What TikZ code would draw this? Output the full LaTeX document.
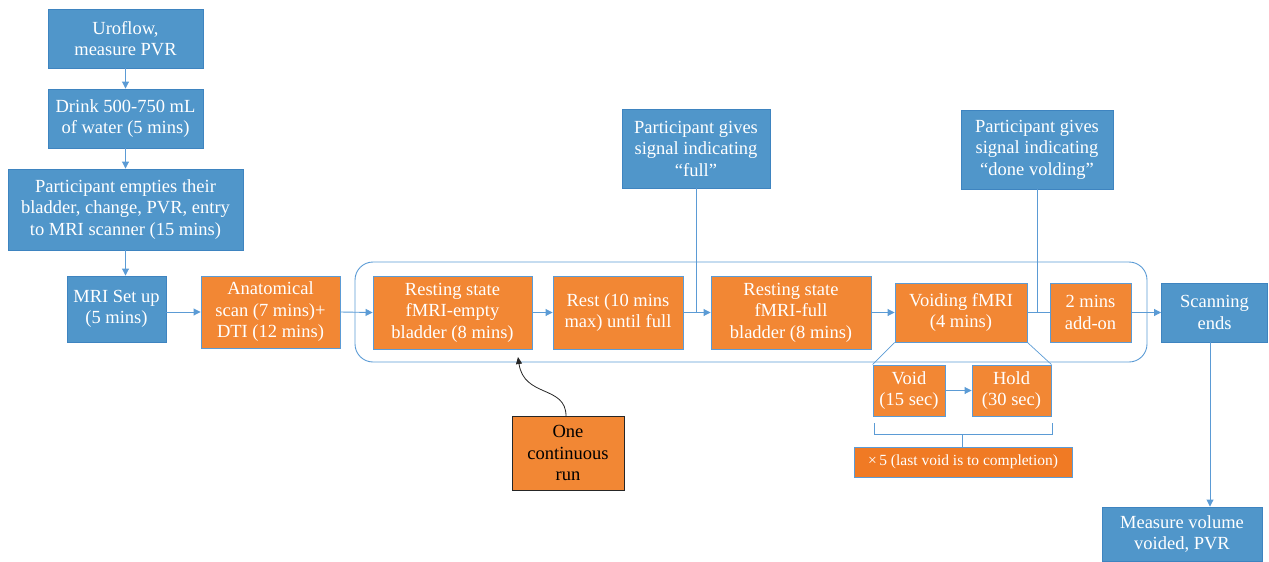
\documentclass[tikz,border=0pt]{standalone}
\usepackage{fontspec}
\setmainfont{Liberation Serif}
\usetikzlibrary{arrows.meta}
\definecolor{bfill}{RGB}{80,150,202}
\definecolor{bdraw}{RGB}{62,132,192}
\definecolor{ofill}{RGB}{242,135,52}
\definecolor{odark}{RGB}{240,122,36}
\definecolor{lcol}{RGB}{91,155,213}
\tikzset{
  box/.style={align=center, inner sep=0pt, line width=0.9pt, text=white,
    font=\fontsize{18.5}{21.5}\selectfont},
  bluebox/.style={box, fill=bfill, draw=bdraw},
  orangebox/.style={box, fill=ofill, draw=lcol},
  conn/.style={draw=lcol, line width=0.9pt},
  arr/.style={conn, -{Triangle[length=7pt,width=7pt]}},
}
\begin{document}
\begin{tikzpicture}[x=1pt,y=-1pt]
\useasboundingbox (0,0) rectangle (1269,562);
% container
\draw[conn, rounded corners=18pt] (355,262) rectangle (1147,362);
% left column
\node[bluebox, minimum width=155, minimum height=59] (uro) at (125.5,38.5) {Uroflow,\\measure PVR};
\node[bluebox, minimum width=155, minimum height=59] (drink) at (125.5,118.5) {Drink 500-750 mL\\of water (5 mins)};
\node[bluebox, minimum width=235, minimum height=81] (empty) at (125.5,209.5) {Participant empties their\\bladder, change, PVR, entry\\to MRI scanner (15 mins)};
\node[bluebox, minimum width=99, minimum height=66] (setup) at (116.5,309) {MRI Set up\\(5 mins)};
% main row
\node[orangebox, minimum width=139, minimum height=72] (anat) at (270.5,312) {Anatomical\\scan (7 mins)+\\DTI (12 mins)};
\node[orangebox, minimum width=159, minimum height=73] (rse) at (452.5,312.5) {Resting state\\fMRI-empty\\bladder (8 mins)};
\node[orangebox, minimum width=130, minimum height=73] (rest) at (618,312.5) {Rest (10 mins\\max) until full};
\node[orangebox, minimum width=160, minimum height=73] (rsf) at (791,312.5) {Resting state\\fMRI-full\\bladder (8 mins)};
\node[orangebox, minimum width=132, minimum height=59] (voidf) at (961,312.5) {Voiding fMRI\\(4 mins)};
\node[orangebox, minimum width=81, minimum height=59] (addon) at (1090.5,312.5) {2 mins\\add-on};
\node[bluebox, minimum width=106, minimum height=59] (scan) at (1214.5,312.5) {Scanning\\ends};
% sub row
\node[orangebox, minimum width=72, minimum height=51] (void) at (909,390.5) {Void\\(15 sec)};
\node[orangebox, minimum width=79, minimum height=51] (hold) at (1011.5,390.5) {Hold\\(30 sec)};
\node[box, fill=odark, draw=lcol, minimum width=218, minimum height=30, font=\fontsize{15.5}{18}\selectfont] (times) at (963,462) {×\,5 (last void is to completion)};
% signals
\node[bluebox, minimum width=148, minimum height=79] (full) at (696,148.5) {Participant gives\\signal indicating\\``full''};
\node[bluebox, minimum width=152, minimum height=79] (done) at (1037,149.5) {Participant gives\\signal indicating\\``done volding''};
\node[bluebox, minimum width=160, minimum height=54] (measure) at (1182,534) {Measure volume\\voided, PVR};
\node[box, fill=ofill, draw=black!85, text=black, minimum width=112, minimum height=74] (run) at (568,453) {One\\continuous\\run};
% connectors
\draw[arr] (uro) -- (drink);
\draw[arr] (drink) -- (empty);
\draw[arr] (empty.south) -- (empty.south |- setup.north);
\draw[arr] (setup.east |- anat) -- (anat.west);
\draw[arr] (anat.east) -- (rse.west);
\draw[arr] (rse.east) -- (rest.west);
\draw[arr] (rest.east) -- (rsf.west);
\draw[arr] (rsf.east) -- (voidf.west);
\draw[conn] (voidf.east) -- (addon.west);
\draw[arr] (addon.east) -- (scan.west);
\draw[conn] (full.south) -- (full.south |- rest.east);
\draw[conn] (done.south) -- (done.south |- voidf.east);
\coordinate (scanb) at (1210,342);
\draw[arr] (scanb) -- (scanb |- measure.north);
% funnel
\draw[conn, line width=0.7pt] (voidf.south west) -- (void.north west);
\draw[conn, line width=0.7pt] (voidf.south east) -- (hold.north east);
\draw[arr] (void.east) -- (hold.west);
% bracket
\coordinate (bl) at (874,423);
\coordinate (br) at (1052,423);
\coordinate (bm) at (962,434);
\draw[conn] (bl) -- (874,434) -- (1052,434) -- (br);
\draw[conn] (bm) -- (bm |- times.north);
% run arrow
\coordinate (runtip) at (518,357);
\draw[black!85, line width=0.8pt, -{Triangle[length=7pt,width=6pt]}] (566,416) .. controls (566,385) and (524,398) .. (runtip);
\end{tikzpicture}
\end{document}
